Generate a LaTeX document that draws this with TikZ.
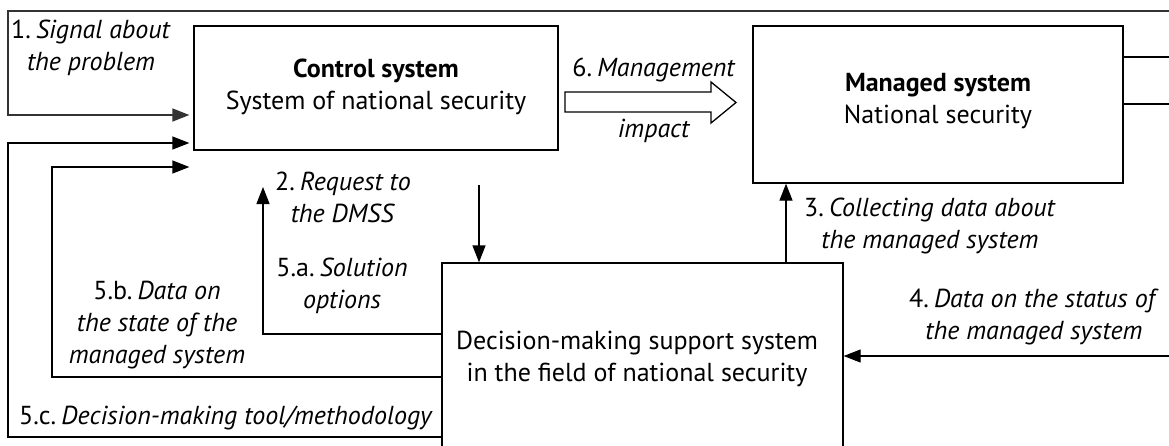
\documentclass[tikz,border=0pt]{standalone}
\usepackage{fontspec}
\setmainfont{PT Sans}
\usetikzlibrary{arrows.meta}
\newcommand{\num}[1]{#1\hspace{0.2em}}
\begin{document}
\begin{tikzpicture}[x=1pt,y=-1pt,
  line width=1.3pt,
  font=\fontsize{26}{32}\selectfont,
  sysbox/.style={draw, rectangle, inner sep=0pt},
  lbl/.style={align=center, inner sep=0pt},
  arr/.style={-{Triangle[length=17pt,width=13pt]}},
]
\clip (0,0) rectangle (1169,445);
\fill[white] (0,0) rectangle (1169,445);

% system boxes
\node[sysbox, minimum width=364pt, minimum height=124pt] (ctl) at (376,88) {};
\node[lbl] (ctltxt) at (376,87) {\textbf{Control system}\\System of national security};
\node[sysbox, minimum width=370pt, minimum height=157pt] (mgd) at (938,104.5) {};
\node[lbl] (mgdtxt) at (938,101) {\textbf{Managed system}\\National security};
\node[sysbox, minimum width=401pt, minimum height=220pt] (dss) at (642.5,373) {};
\node[lbl] (dsstxt) at (637,359) {Decision-making support system\\in the field of national security};

% free ends at the frame
\coordinate (topR) at (1169,11);
\coordinate (cornerA) at (8,115);
\coordinate (cornerC) at (8,143);
\coordinate (cornerB) at (52,167);
\coordinate (cornerS) at (263,187);
\coordinate (reqTop) at (479,185);
\coordinate (inR) at (1169,356);
\coordinate (outA) at (1169,57);
\coordinate (outB) at (1169,104);

% 1. signal about the problem
\draw[arr, line width=1.7pt, draw=black!80] (topR) -| (cornerA) -- ([xshift=-4pt]ctl.west |- cornerA);
% 5.c decision-making tool
\draw[arr] (dss.west |- 0,437) -| (cornerC) -- ([xshift=-4pt]ctl.west |- cornerC);
% 5.b data on the state
\draw[arr] (dss.west |- 0,377) -| (cornerB) -- ([xshift=-4pt]ctl.west |- cornerB);
% 5.a solution options
\draw[arr] (dss.west |- 0,334) -| (cornerS);
% 2. request to the DMSS
\draw[arr] (reqTop) -- (dss.north -| reqTop);
% 3. collecting data
\draw[arr] (dss.north -| 786,0) -- (mgd.south -| 786,0);
% 4. data on the status
\draw[arr] (inR) -- (dss.east |- inR);
% outputs of the managed system
\draw (mgd.east |- outA) -- (outA);
\draw (mgd.east |- outB) -- (outB);

% 6. management impact
\draw[fill=white] (565,92) -- (711,92) -- (711,82) -- (736,102.5) -- (711,123) -- (711,112) -- (565,112) -- cycle;

% labels
\node[lbl] (l1) at (91,48) {\num{1.}\textit{Signal about}\\\textit{the problem}};
\node[lbl] (l6a) at (654,70) {\num{6.}\textit{Management}};
\node[lbl] (l6b) at (654,131) {\textit{impact}};
\node[lbl] (l2) at (343,197) {\num{2.}\textit{Request to}\\\textit{the DMSS}};
\node[lbl] (l3) at (930,226) {\num{3.}\textit{Collecting data about}\\\textit{the managed system}};
\node[lbl] (l4) at (1034,317) {\num{4.}\textit{Data on the status of}\\\textit{the managed system}};
\node[lbl] (l5a) at (342,286) {\num{5.a.}\textit{Solution}\\\textit{options}};
\node[lbl] (l5b) at (157,325) {\num{5.b.}\textit{Data on}\\\textit{the state of the}\\\textit{managed system}};
\node[lbl] (l5c) at (226,418) {\num{5.c.}\textit{Decision-making tool/methodology}};
\end{tikzpicture}
\end{document}
